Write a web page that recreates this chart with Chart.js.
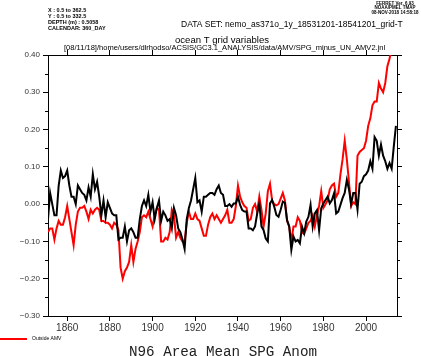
<!DOCTYPE html>
<html>
<head>
<meta charset="utf-8">
<script src="https://cdn.jsdelivr.net/npm/chart.js@4/dist/chart.umd.min.js"></script>
<style>
  html, body { margin: 0; padding: 0; background: #fff; }
  #wrap { position: relative; width: 421px; height: 356px; }
</style>
</head>
<body>
<div id="wrap"><canvas id="c" width="421" height="356"></canvas></div>
<script>
// ---- data ----
const firstYear = 1851;
const spgAnom = [
  -0.04, 0.03, 0.00, -0.03, -0.03, 0.05, 0.09, 0.07, 0.075,
  0.09, 0.05, 0.02, 0.02, 0.00, 0.05, 0.04, 0.03, 0.025, 0.01,
  0.045, 0.02, 0.08, 0.04, 0.06, 0.02, -0.03, 0.01, -0.035, 0.005,
  -0.01, -0.025, -0.03, -0.03, -0.095, -0.09, -0.09, -0.06, -0.10, -0.07,
  -0.065, -0.075, -0.09, -0.09, -0.04, -0.005, 0.01, -0.005, 0.025, -0.02,
  0.005, -0.04, -0.01, 0.01, -0.045, -0.02, -0.03, -0.045, -0.04, -0.065,
  -0.01, -0.03, -0.065, -0.075, -0.095, -0.12, -0.04, -0.01, 0.01, 0.04,
  0.07, 0.005, 0.01, -0.02, 0.02, 0.02, 0.025, 0.03, 0.03, 0.025,
  0.04, 0.05, 0.03, 0.025, -0.005, -0.005, 0.00, -0.007, 0.002, 0.002,
  0.02, -0.002, -0.016, -0.02, -0.02, -0.065, -0.065, -0.07, -0.06, -0.025,
  0.002, -0.06, -0.07, -0.092, -0.10, 0.002, 0.011, -0.007, -0.029, -0.034,
  -0.015, 0.007, 0.003, -0.043, -0.06, -0.123, -0.087, -0.10, -0.096, -0.105,
  -0.06, -0.078, -0.047, -0.034, -0.002, -0.06, -0.025, -0.016, -0.07, -0.011,
  0.002, 0.011, 0.02, 0.002, 0.011, 0.029, -0.025, -0.02, -0.002, 0.016,
  0.03, 0.065, 0.04, 0.0, 0.03, 0.03, -0.015, 0.055, 0.06, 0.075,
  0.08, 0.09, 0.115, 0.095, 0.18, 0.17, 0.13, 0.16, 0.13, 0.115,
  0.095, 0.11, 0.095, 0.155, 0.21
];
const outsideAmv = [
  -0.075, -0.065, -0.065, -0.095, -0.065, -0.045, -0.055, -0.055, -0.035,
  -0.005, -0.04, -0.075, -0.11, -0.055, -0.02, -0.01, -0.01, -0.005, -0.02,
  -0.04, -0.015, -0.025, -0.015, -0.01, -0.015, -0.045, -0.045, -0.05, -0.05,
  -0.055, -0.065, -0.05, -0.055, -0.07, -0.17, -0.20, -0.18, -0.17, -0.155,
  -0.11, -0.155, -0.12, -0.10, -0.075, -0.035, -0.03, -0.035, -0.02, -0.04,
  -0.06, -0.03, -0.01, -0.015, -0.10, -0.10, -0.09, -0.095, -0.075, -0.015,
  -0.03, -0.09, -0.075, -0.09, -0.10, -0.10, -0.05, -0.02, -0.04, -0.04,
  -0.025, -0.04, -0.045, -0.065, -0.085, -0.085, -0.055, -0.035, -0.025, -0.04,
  -0.03, -0.04, -0.05, -0.04, -0.03, -0.015, -0.05, -0.05, -0.04, -0.005,
  0.05, 0.02, 0.005, -0.005, -0.01, -0.045, -0.04, -0.01, 0.00, -0.02,
  0.02, -0.015, -0.06, -0.025, 0.035, 0.055, 0.01, 0.00, -0.003, 0.00,
  0.015, 0.03, 0.01, -0.045, -0.06, -0.10, -0.06, -0.06, -0.035, -0.045,
  -0.075, -0.08, -0.065, -0.05, -0.045, -0.03, -0.06, -0.03, -0.005, 0.035,
  -0.01, 0.00, 0.01, 0.04, 0.05, 0.055, 0.02, 0.03, 0.08, 0.12,
  0.17, 0.12, 0.06, -0.005, 0.005, 0.00, 0.13, 0.14, 0.145, 0.15,
  0.17, 0.21, 0.23, 0.265, 0.275, 0.275, 0.325, 0.31, 0.30, 0.325,
  0.37, 0.39, 0.42, 0.45, 0.47
];
const years = spgAnom.map((_, i) => firstYear + i);
const xTicks = [1860, 1880, 1900, 1920, 1940, 1960, 1980, 2000];
const yMajorTicks = [-0.3, -0.2, -0.1, 0.0, 0.1, 0.2, 0.3, 0.4];
const yMinorTicks = [-0.25, -0.15, -0.05, 0.05, 0.15, 0.25, 0.35];
const legendLabel = 'Outside AMV';
const titleText = 'N96 Area Mean SPG Anom';
const headerLeft = ['X : 0.5 to 362.5', 'Y : 0.5 to 332.5', 'DEPTH (m) : 0.5058', 'CALENDAR: 360_DAY'];
const headerRight = ['FERRET Ver. 6.93', 'NOAA/PMEL TMAP', '08-NOV-2018 14:58:18'];
const dataSetText = 'DATA SET: nemo_as371o_1y_18531201-18541201_grid-T';
const varText = 'ocean T grid variables';
const pathText = '[08/11/18]/home/users/dlrhodso/ACSIS/GC3.1_ANALYSIS/data/AMV/SPG_minus_UN_AMV2.jnl';

const SANS = "'Liberation Sans', Arial, Helvetica, sans-serif";
const MONO = "'Liberation Mono', 'DejaVu Sans Mono', monospace";

function fmtY(v) {
  const s = Math.abs(v).toFixed(2);
  return (v < -1e-9 ? '\u2212' : '') + s;
}

function fitText(ctx, text, x, y, width, family, weight, align) {
  ctx.font = `${weight} 20px ${family}`;
  const w = ctx.measureText(text).width;
  const size = 20 * width / w;
  ctx.font = `${weight} ${size}px ${family}`;
  ctx.textAlign = align;
  ctx.fillText(text, x, y);
}

const decor = {
  id: 'decor',
  afterDraw(chart) {
    const ctx = chart.ctx;
    const ys = chart.scales.y;
    const area = chart.chartArea;
    ctx.save();
    // minor ticks on both vertical axes
    ctx.strokeStyle = '#000';
    ctx.lineWidth = 1;
    yMinorTicks.forEach(v => {
      const py = Math.round(ys.getPixelForValue(v)) + 0.5;
      ctx.beginPath();
      ctx.moveTo(area.left - 3, py); ctx.lineTo(area.left, py);
      ctx.moveTo(area.right, py); ctx.lineTo(area.right + 3, py);
      ctx.stroke();
    });
    ctx.fillStyle = '#000';
    ctx.textBaseline = 'middle';
    // header, left block
    headerLeft.forEach((t, i) => {
      ctx.font = `bold 5.5px ${SANS}`;
      ctx.textAlign = 'left';
      ctx.fillText(t, 48, 10 + i * 6);
    });
    // header, right block
    headerRight.forEach((t, i) => {
      ctx.font = `bold 4.5px ${SANS}`;
      ctx.textAlign = 'center';
      ctx.fillText(t, 395, 3.5 + i * 4.5);
    });
    fitText(ctx, dataSetText, 181, 25, 222, SANS, 'normal', 'left');
    fitText(ctx, varText, 222, 40, 94, SANS, 'normal', 'center');
    fitText(ctx, pathText, 64, 48, 322, SANS, 'normal', 'left');
    // legend
    const ds = chart.data.datasets[1];
    ctx.strokeStyle = ds.borderColor;
    ctx.lineWidth = 2;
    ctx.beginPath();
    ctx.moveTo(0, 339); ctx.lineTo(27, 339);
    ctx.stroke();
    ctx.fillStyle = '#000';
    ctx.font = `5px ${SANS}`;
    ctx.textAlign = 'left';
    ctx.fillText(legendLabel, 32, 339);
    // bottom title
    ctx.fillStyle = '#222';
    fitText(ctx, titleText, 223, 352, 188, MONO, 'normal', 'center');
    ctx.restore();
  }
};

const axisCommon = {
  type: 'linear',
  border: { display: true, color: '#000', width: 1 },
};

new Chart(document.getElementById('c'), {
  type: 'line',
  data: {
    datasets: [
      {
        label: 'SPG',
        data: years.map((yr, i) => ({ x: yr, y: spgAnom[i] })),
        borderColor: '#000000',
        borderWidth: 2,
        pointRadius: 0,
        tension: 0,
        xAxisID: 'x', yAxisID: 'y'
      },
      {
        label: legendLabel,
        data: years.map((yr, i) => ({ x: yr, y: outsideAmv[i] })),
        borderColor: '#ff0000',
        borderWidth: 2,
        pointRadius: 0,
        tension: 0,
        xAxisID: 'x', yAxisID: 'y'
      }
    ]
  },
  options: {
    responsive: false,
    animation: false,
    devicePixelRatio: 1,
    layout: { padding: { left: 0, right: 19, top: 50, bottom: 0 } },
    plugins: { legend: { display: false }, tooltip: { enabled: false } },
    scales: {
      x: {
        ...axisCommon,
        position: 'bottom',
        min: 1851, max: 2014.5,
        afterBuildTicks: s => { s.ticks = xTicks.map(v => ({ value: v })); },
        afterFit: s => { s.height = 40; },
        grid: { drawOnChartArea: false, drawTicks: true, tickLength: 5, color: '#000' },
        ticks: { color: '#333', font: { family: SANS, size: 10 }, padding: 1, maxRotation: 0, callback: v => String(v) }
      },
      x2: {
        ...axisCommon,
        position: 'top',
        min: 1851, max: 2014.5,
        afterBuildTicks: s => { s.ticks = xTicks.map(v => ({ value: v })); },
        afterFit: s => { s.height = 5; },
        grid: { drawOnChartArea: false, drawTicks: true, tickLength: 5, color: '#000' },
        ticks: { display: false }
      },
      y: {
        ...axisCommon,
        position: 'left',
        min: -0.3, max: 0.4,
        afterBuildTicks: s => { s.ticks = yMajorTicks.map(v => ({ value: v })); },
        afterFit: s => { s.width = 48; },
        grid: { drawOnChartArea: false, drawTicks: true, tickLength: 5, color: '#000' },
        ticks: { color: '#333', font: { family: SANS, size: 8 }, padding: 3, callback: v => fmtY(v) }
      },
      y2: {
        ...axisCommon,
        position: 'right',
        min: -0.3, max: 0.4,
        afterBuildTicks: s => { s.ticks = yMajorTicks.map(v => ({ value: v })); },
        afterFit: s => { s.width = 5; },
        grid: { drawOnChartArea: false, drawTicks: true, tickLength: 5, color: '#000' },
        ticks: { display: false }
      }
    }
  },
  plugins: [decor]
});
</script>
</body>
</html>
